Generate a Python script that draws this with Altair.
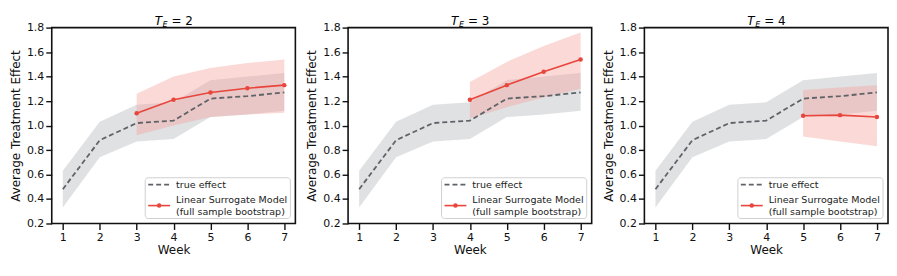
import altair as alt
import pandas as pd

weeks = [1, 2, 3, 4, 5, 6, 7]
true_mean = [0.48, 0.88, 1.02, 1.04, 1.22, 1.24, 1.27]
true_lo = [0.33, 0.74, 0.87, 0.89, 1.07, 1.09, 1.12]
true_hi = [0.63, 1.03, 1.17, 1.19, 1.37, 1.40, 1.43]

panels = [2, 3, 4]
red_weeks = {2: [3, 4, 5, 6, 7], 3: [4, 5, 6, 7], 4: [5, 6, 7]}
red_mean = {2: [1.10, 1.21, 1.27, 1.305, 1.33],
            3: [1.21, 1.33, 1.44, 1.54],
            4: [1.08, 1.085, 1.07]}
red_lo = {2: [0.92, 1.00, 1.07, 1.09, 1.105],
          3: [1.06, 1.15, 1.23, 1.30],
          4: [0.91, 0.87, 0.83]}
red_hi = {2: [1.26, 1.40, 1.47, 1.51, 1.54],
          3: [1.355, 1.52, 1.65, 1.76],
          4: [1.29, 1.31, 1.33]}
yticks = [0.2, 0.4, 0.6, 0.8, 1.0, 1.2, 1.4, 1.6, 1.8]

legend_labels = ["true effect", "Linear Surrogate Model", "(full sample bootstrap)"]

RED = "#e8453c"
GRAY_LINE = "#5f6368"
FONT = "DejaVu Sans"
W, H = 245, 197

true_df = pd.DataFrame({"week": weeks, "mean": true_mean, "lo": true_lo, "hi": true_hi})
one = pd.DataFrame({"a": [0]})

xscale = alt.Scale(domain=[0.7, 7.3], nice=False, zero=False)
yscale = alt.Scale(domain=[0.2, 1.8], nice=False, zero=False)
xaxis = alt.Axis(values=weeks, title="Week", format="d")
yaxis = alt.Axis(values=yticks, format=".1f", title="Average Treatment Effect")


def X(f):
    return alt.X(f, type="quantitative", scale=xscale, axis=xaxis)


def Y(f):
    return alt.Y(f, type="quantitative", scale=yscale, axis=yaxis)


def panel(te):
    red_df = pd.DataFrame({"week": red_weeks[te], "mean": red_mean[te],
                           "lo": red_lo[te], "hi": red_hi[te]})
    gband = alt.Chart(true_df).mark_area(color="#b0b5ba", opacity=0.4).encode(
        x=X("week"), y=Y("lo"), y2="hi:Q")
    rband = alt.Chart(red_df).mark_area(color="#f4a09a", opacity=0.4).encode(
        x=X("week"), y=Y("lo"), y2="hi:Q")
    gline = alt.Chart(true_df).mark_line(color=GRAY_LINE, strokeWidth=1.8,
                                         strokeDash=[5, 3]).encode(
        x=X("week"), y=Y("mean"))
    rline = alt.Chart(red_df).mark_line(color=RED, strokeWidth=1.6,
                                        point=alt.OverlayMarkDef(color=RED, size=20, filled=True, opacity=1)).encode(
        x=X("week"), y=Y("mean"))

    # legend box
    lx0, lx1, ly0, ly1 = 94, 240, 151, 192
    box = alt.Chart(one).mark_rect(fill="white", stroke="#cccccc", strokeWidth=1,
                                   cornerRadius=3, opacity=0.9).encode(
        x=alt.value(lx0), x2=alt.value(lx1), y=alt.value(ly0), y2=alt.value(ly1))
    ldash = alt.Chart(one).mark_rule(color=GRAY_LINE, strokeWidth=1.8,
                                     strokeDash=[5, 3]).encode(
        x=alt.value(lx0 + 3), x2=alt.value(lx0 + 25), y=alt.value(ly0 + 7))
    lred = alt.Chart(one).mark_rule(color=RED, strokeWidth=1.6).encode(
        x=alt.value(lx0 + 3), x2=alt.value(lx0 + 25), y=alt.value(ly0 + 28))
    lpt = alt.Chart(one).mark_point(color=RED, filled=True, size=20, opacity=1).encode(
        x=alt.value(lx0 + 14), y=alt.value(ly0 + 28))
    lt1 = alt.Chart(one).mark_text(text=legend_labels[0], align="left", baseline="middle",
                                   font=FONT, fontSize=9.6, color="#222").encode(
        x=alt.value(lx0 + 31), y=alt.value(ly0 + 7))
    lt2 = alt.Chart(one).mark_text(text=legend_labels[1], align="left", baseline="middle",
                                   font=FONT, fontSize=9.6, color="#222").encode(
        x=alt.value(lx0 + 31), y=alt.value(ly0 + 22))
    lt3 = alt.Chart(one).mark_text(text=legend_labels[2], align="left", baseline="middle",
                                   font=FONT, fontSize=9.6, color="#222").encode(
        x=alt.value(lx0 + 31), y=alt.value(ly0 + 34))

    # title  T_E = n
    cx = W / 2
    tT = alt.Chart(one).mark_text(text="T", align="left", baseline="alphabetic",
                                  font=FONT, fontSize=12, fontStyle="italic", color="black").encode(
        x=alt.value(cx - 19), y=alt.value(-3))
    tE = alt.Chart(one).mark_text(text="E", align="left", baseline="alphabetic",
                                  font=FONT, fontSize=8, fontStyle="italic", color="black").encode(
        x=alt.value(cx - 11), y=alt.value(-0.5))
    tR = alt.Chart(one).mark_text(text=f"= {te}", align="left", baseline="alphabetic",
                                  font=FONT, fontSize=12, color="black").encode(
        x=alt.value(cx - 2), y=alt.value(-3))

    return alt.layer(gband, rband, gline, rline, box, ldash, lred, lpt,
                     lt1, lt2, lt3, tT, tE, tR).properties(width=W, height=H)


chart = alt.hconcat(*[panel(te) for te in panels], spacing=8).properties(
    padding={"left": 0, "top": 5, "right": 0, "bottom": 0}
).configure_view(
    stroke="#111111", strokeWidth=1.6
).configure_axis(
    domain=False, grid=False,
    tickColor="#111111", tickWidth=1.4, tickSize=6,
    labelFont=FONT, labelFontSize=11, labelColor="#111111", labelPadding=2,
    labelOverlap=False, labelFlush=False,
    titleFont=FONT, titleFontSize=12, titleFontWeight="normal", titleColor="#111111",
).configure_axisY(titlePadding=4).configure_axisX(titlePadding=2)

chart.save("out.html", embed_options={"renderer": "svg", "actions": False})
